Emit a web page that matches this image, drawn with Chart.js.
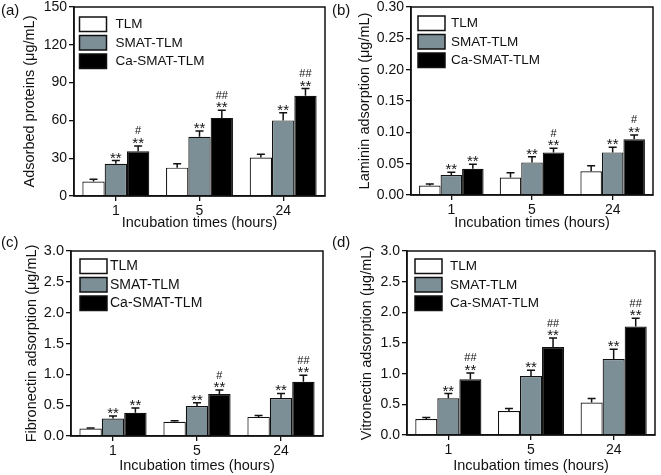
<!DOCTYPE html>
<html><head><meta charset="utf-8">
<script src="https://cdn.jsdelivr.net/npm/chart.js@4/dist/chart.umd.min.js"></script>
<style>
html,body{margin:0;padding:0;background:#fff;}
#wrap{position:relative;width:661px;height:475px;overflow:hidden;font-family:"Liberation Sans",Arial,sans-serif;}
.panel{position:absolute;}
.panel canvas{display:block;}
.lbl{position:absolute;font-size:15px;line-height:15px;color:#111;white-space:nowrap;}
</style></head><body>
<div id="wrap">
  <div class="panel" style="left:0;top:0;"><canvas id="cA" width="330" height="237"></canvas></div>
  <div class="panel" style="left:330px;top:0;"><canvas id="cB" width="331" height="237"></canvas></div>
  <div class="panel" style="left:0;top:237px;"><canvas id="cC" width="330" height="238"></canvas></div>
  <div class="panel" style="left:330px;top:237px;"><canvas id="cD" width="331" height="238"></canvas></div>
  <div class="lbl" style="left:1px;top:2px;">(a)</div>
  <div class="lbl" style="left:332px;top:2px;">(b)</div>
  <div class="lbl" style="left:1px;top:234px;">(c)</div>
  <div class="lbl" style="left:332px;top:234px;">(d)</div>
</div>
<script>
// ---------- data ----------
const categories = ['1', '5', '24'];
const groupNames = ['TLM', 'SMAT-TLM', 'Ca-SMAT-TLM'];
const xTitle = 'Incubation times (hours)';

// (a) adsorbed proteins
const proteinTLM = [11.5, 22.5, 30.5];
const proteinTLMErr = [1.8, 3.0, 2.6];
const proteinSMAT = [25.5, 47, 60];
const proteinSMATErr = [2.6, 4.5, 6];
const proteinCa = [35.5, 62, 79.5];
const proteinCaErr = [4.2, 6, 5.8];
const proteinCaHash = ['#', '##', '##'];

// (b) laminin
const lamininTLM = [0.015, 0.028, 0.038];
const lamininTLMErr = [0.0026, 0.0074, 0.0085];
const lamininSMAT = [0.032, 0.052, 0.068];
const lamininSMATErr = [0.0042, 0.009, 0.008];
const lamininCa = [0.042, 0.068, 0.089];
const lamininCaErr = [0.007, 0.0068, 0.0069];
const lamininCaHash = ['', '#', '#'];

// (c) fibronectin
const fibronectinTLM = [0.12, 0.23, 0.31];
const fibronectinTLMErr = [0.011, 0.016, 0.022];
const fibronectinSMAT = [0.285, 0.485, 0.615];
const fibronectinSMATErr = [0.038, 0.054, 0.075];
const fibronectinCa = [0.378, 0.68, 0.879];
const fibronectinCaErr = [0.075, 0.064, 0.108];
const fibronectinCaHash = ['', '#', '##'];

// (d) vitronectin
const vitronectinTLM = [0.26, 0.39, 0.53];
const vitronectinTLMErr = [0.027, 0.043, 0.064];
const vitronectinSMAT = [0.60, 0.96, 1.24];
const vitronectinSMATErr = [0.076, 0.097, 0.16];
const vitronectinCa = [0.91, 1.435, 1.77];
const vitronectinCaErr = [0.102, 0.145, 0.135];
const vitronectinCaHash = ['##', '##', '##'];

const smatStars = ['**', '**', '**'];
const caStars = ['**', '**', '**'];

const proteinTicks = {max: 150, step: 30, dec: 0};
const lamininTicks = {max: 0.30, step: 0.05, dec: 2};
const fibronectinTicks = {max: 3.0, step: 0.5, dec: 1};
const vitronectinTicks = {max: 3.0, step: 0.5, dec: 1};

// ---------- styling ----------
const FONT = 'Liberation Sans';
const INK = '#111';
const COLORS = ['#ffffff', '#7d8f96', '#000000'];

const framePlugin = {
  id: 'frame',
  afterDatasetsDraw(chart) {
    const {ctx, chartArea: a} = chart;
    ctx.save();
    ctx.strokeStyle = INK; ctx.lineWidth = 1.5;
    ctx.strokeRect(a.left, a.top, a.right - a.left, a.bottom - a.top);
    ctx.restore();
  }
};

const errorBarPlugin = {
  id: 'errbars',
  afterDatasetsDraw(chart) {
    const ctx = chart.ctx, ys = chart.scales.y;
    chart.data.datasets.forEach((ds, di) => {
      const meta = chart.getDatasetMeta(di);
      meta.data.forEach((bar, i) => {
        const v = ds.data[i], e = ds.errors[i];
        const yTop = ys.getPixelForValue(v), yErr = ys.getPixelForValue(v + e);
        ctx.save();
        ctx.strokeStyle = INK; ctx.lineWidth = 1.5;
        ctx.beginPath();
        ctx.moveTo(bar.x, yTop); ctx.lineTo(bar.x, yErr);
        ctx.moveTo(bar.x - 4, yErr); ctx.lineTo(bar.x + 4, yErr);
        ctx.stroke();
        ctx.fillStyle = INK; ctx.textAlign = 'center'; ctx.textBaseline = 'alphabetic';
        if (ds.stars && ds.stars[i]) {
          ctx.font = '15px "Liberation Sans"';
          ctx.fillText(ds.stars[i], bar.x, yErr + 2);
        }
        if (ds.hashes && ds.hashes[i]) {
          ctx.font = '11px "Liberation Sans"';
          ctx.fillText(ds.hashes[i], bar.x, yErr - 11.5);
        }
        ctx.restore();
      });
    });
  }
};

const boxLegendPlugin = {
  id: 'boxlegend',
  afterDraw(chart, args, o) {
    const ctx = chart.ctx, a = chart.chartArea;
    chart.data.datasets.forEach((ds, i) => {
      const bx = a.left + o.x, by = a.top + o.y + i * 18.5;
      ctx.save();
      ctx.fillStyle = ds.backgroundColor;
      ctx.fillRect(bx, by, 27, 14.5);
      ctx.strokeStyle = INK; ctx.lineWidth = 1.5;
      ctx.strokeRect(bx, by, 27, 14.5);
      ctx.fillStyle = INK; ctx.font = o.size + 'px "Liberation Sans"';
      ctx.textAlign = 'left'; ctx.textBaseline = 'middle';
      ctx.fillText(ds.label, bx + o.tx, by + 7.5);
      ctx.restore();
    });
  }
};

function makePanel(id, p) {
  const datasets = p.values.map((vals, k) => ({
    label: groupNames[k],
    data: vals,
    errors: p.errors[k],
    stars: p.stars[k],
    hashes: p.hashes[k],
    backgroundColor: COLORS[k],
    borderColor: INK,
    borderWidth: 1.2,
    borderSkipped: 'bottom',
    categoryPercentage: 0.8,
    barPercentage: 1.0
  }));
  return new Chart(document.getElementById(id), {
    type: 'bar',
    data: {labels: categories, datasets},
    plugins: [framePlugin, errorBarPlugin, boxLegendPlugin],
    options: {
      responsive: false, animation: false, devicePixelRatio: 1,
      layout: {padding: {top: p.top, right: p.right, left: 0, bottom: 0}},
      plugins: {legend: {display: false}, tooltip: {enabled: false},
        boxlegend: {x: p.lx, y: p.ly, tx: p.ltx, size: p.lsize}},
      scales: {
        x: {
          grid: {offset: false, drawOnChartArea: false, tickLength: 5, color: INK, lineWidth: 1.3},
          border: {color: INK, width: 1.5},
          ticks: {color: INK, font: {family: FONT, size: 14}, padding: 2, maxRotation: 0},
          title: {display: true, text: xTitle, color: INK, font: {family: FONT, size: 14.5}, padding: {top: 0, bottom: p.xtp}},
          afterFit(s) { s.height = p.xh; s.paddingLeft = 0; s.paddingRight = 0; s.paddingTop = 0; s.paddingBottom = 0; }
        },
        y: {
          min: 0, max: p.ticks.max,
          grid: {drawOnChartArea: false, tickLength: 5, color: INK, lineWidth: 1.3},
          border: {color: INK, width: 1.5},
          ticks: {color: INK, font: {family: FONT, size: p.tsize}, padding: 2, stepSize: p.ticks.step,
            callback: (v) => Number(v).toFixed(p.ticks.dec)},
          title: {display: true, text: p.yTitle, color: INK, font: {family: FONT, size: 14.5}, padding: {top: p.ytp, bottom: 0}},
          afterFit(s) { s.width = p.yw; s.paddingLeft = 0; s.paddingRight = 0; s.paddingTop = 0; s.paddingBottom = 0; }
        }
      }
    }
  });
}

makePanel('cA', {
  values: [proteinTLM, proteinSMAT, proteinCa],
  errors: [proteinTLMErr, proteinSMATErr, proteinCaErr],
  stars: [null, smatStars, caStars], hashes: [null, null, proteinCaHash],
  ticks: proteinTicks, yTitle: 'Adsorbed proteins (\u03bcg/mL)',
  top: 7, right: 5, yw: 74, xh: 41, ytp: 21.3, xtp: 5.8,
  lx: 5.5, ly: 10, ltx: 36, lsize: 13.5, tsize: 14
});
makePanel('cB', {
  values: [lamininTLM, lamininSMAT, lamininCa],
  errors: [lamininTLMErr, lamininSMATErr, lamininCaErr],
  stars: [null, smatStars, caStars], hashes: [null, null, lamininCaHash],
  ticks: lamininTicks, yTitle: 'Laminin adsorption (\u03bcg/mL)',
  top: 7, right: 8, yw: 81, xh: 42, ytp: 26.3, xtp: 5.8,
  lx: 7, ly: 9, ltx: 33, lsize: 13.5, tsize: 14
});
makePanel('cC', {
  values: [fibronectinTLM, fibronectinSMAT, fibronectinCa],
  errors: [fibronectinTLMErr, fibronectinSMATErr, fibronectinCaErr],
  stars: [null, smatStars, caStars], hashes: [null, null, fibronectinCaHash],
  ticks: fibronectinTicks, yTitle: 'Fibronectin adsorption (\u03bcg/mL)',
  top: 14, right: 7, yw: 71, xh: 39, ytp: 23.3, xtp: 0,
  lx: 9, ly: 8, ltx: 30, lsize: 14, tsize: 14.5
});
makePanel('cD', {
  values: [vitronectinTLM, vitronectinSMAT, vitronectinCa],
  errors: [vitronectinTLMErr, vitronectinSMATErr, vitronectinCaErr],
  stars: [null, smatStars, caStars], hashes: [null, null, vitronectinCaHash],
  ticks: vitronectinTicks, yTitle: 'Vitronectin adsorption (\u03bcg/mL)',
  top: 14, right: 6, yw: 77, xh: 40, ytp: 28.3, xtp: 0,
  lx: 8, ly: 8, ltx: 35, lsize: 13.5, tsize: 14
});
</script>
</body></html>
